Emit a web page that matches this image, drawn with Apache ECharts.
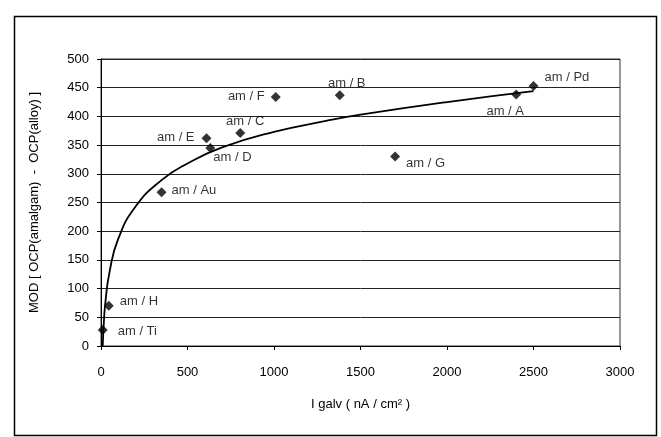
<!DOCTYPE html>
<html>
<head>
<meta charset="utf-8">
<script src="https://cdn.jsdelivr.net/npm/echarts@6/dist/echarts.min.js"></script>
<style>
html,body{margin:0;padding:0;background:#fff;}
#chart{width:661px;height:437px;}
</style>
</head>
<body>
<div id="chart"></div>
<script>
// ---- data ----
const pointNames = ['am / Ti','am / H','am / Au','am / E','am / D','am / C','am / F','am / B','am / G','am / A','am / Pd'];
const iGalv = [10, 45, 350, 610, 632, 805, 1010, 1380, 1700, 2400, 2500];
const modValues = [28, 70, 268, 362, 345, 371, 434, 437, 330, 438, 453];
// trend curve
const trendX = [10, 15, 25, 50, 100, 200, 350, 500, 700, 1000, 1300, 1500, 2000, 2500];
const trendY = [0, 33, 75, 130, 187, 243, 289, 318, 346, 373, 392, 403, 425, 444];
const xAxisTitle = 'I galv ( nA / cm² )';
const yAxisTitle = 'MOD [ OCP(amalgam)  -  OCP(alloy) ]';

// ---- label placement (style) ----
const labelPlace = {
  'am / Ti': {position:'right', offset:[5, 1]},
  'am / H':  {position:'right', offset:[1, -4]},
  'am / Au': {position:'right', offset:[0, -2]},
  'am / E':  {position:'left',  offset:[-2, -1]},
  'am / D':  {position:'right', offset:[-7, 9]},
  'am / C':  {position:'top',   offset:[5, 5]},
  'am / F':  {position:'left',  offset:[-1, 0]},
  'am / B':  {position:'top',   offset:[7, 5]},
  'am / G':  {position:'right', offset:[1, 7]},
  'am / A':  {position:'bottom',offset:[-11, 0]},
  'am / Pd': {position:'right', offset:[1, -9]}
};

const FONT = '"Liberation Sans", Arial, sans-serif';
const scatterData = pointNames.map((n, i) => ({
  name: n,
  value: [iGalv[i], modValues[i]],
  label: Object.assign({show:true, formatter: n, color:'#000', fontSize:13, fontFamily:FONT}, labelPlace[n])
}));
const trendData = trendX.map((x, i) => [x, trendY[i]]);

const chart = echarts.init(document.getElementById('chart'), null, {renderer:'canvas'});
chart.setOption({
  animation: false,
  backgroundColor: '#fff',
  graphic: [{
    type:'rect', left:12, top:14, shape:{width:642, height:419},
    style:{fill:'none', stroke:'#000', lineWidth:1.5}, silent:true
  }],
  grid: {left:101, right:41, top:59, bottom:91, show:true, borderColor:'#333', borderWidth:1, backgroundColor:'transparent'},
  xAxis: {
    type:'value', min:0, max:3000, interval:500,
    name: xAxisTitle, nameLocation:'middle', nameGap:52,
    nameTextStyle:{color:'#000', fontSize:13, fontFamily:FONT},
    axisLine:{show:true, lineStyle:{color:'#000', width:1}},
    axisTick:{show:true, length:4, lineStyle:{color:'#000'}},
    axisLabel:{color:'#000', fontSize:13, fontFamily:FONT, margin:20, formatter: v => String(v)},
    splitLine:{show:false}
  },
  yAxis: {
    type:'value', min:0, max:500, interval:50,
    name: yAxisTitle, nameLocation:'middle', nameGap:60, nameRotate:90,
    nameTextStyle:{color:'#000', fontSize:13, fontFamily:FONT},
    axisLine:{show:true, lineStyle:{color:'#000', width:1}},
    axisTick:{show:true, length:4, lineStyle:{color:'#000'}},
    axisLabel:{color:'#000', fontSize:13, fontFamily:FONT, margin:12, formatter: v => String(v)},
    splitLine:{show:true, lineStyle:{color:'#222', width:1}}
  },
  series: [
    {
      type:'line', data: trendData, smooth:true, showSymbol:false, symbol:'none',
      lineStyle:{color:'#000', width:1.8}, z:2, silent:true, clip:true
    },
    {
      type:'scatter', data: scatterData, symbol:'diamond', symbolSize:10,
      itemStyle:{color:'#000'}, z:3
    }
  ]
});
</script>
</body>
</html>
